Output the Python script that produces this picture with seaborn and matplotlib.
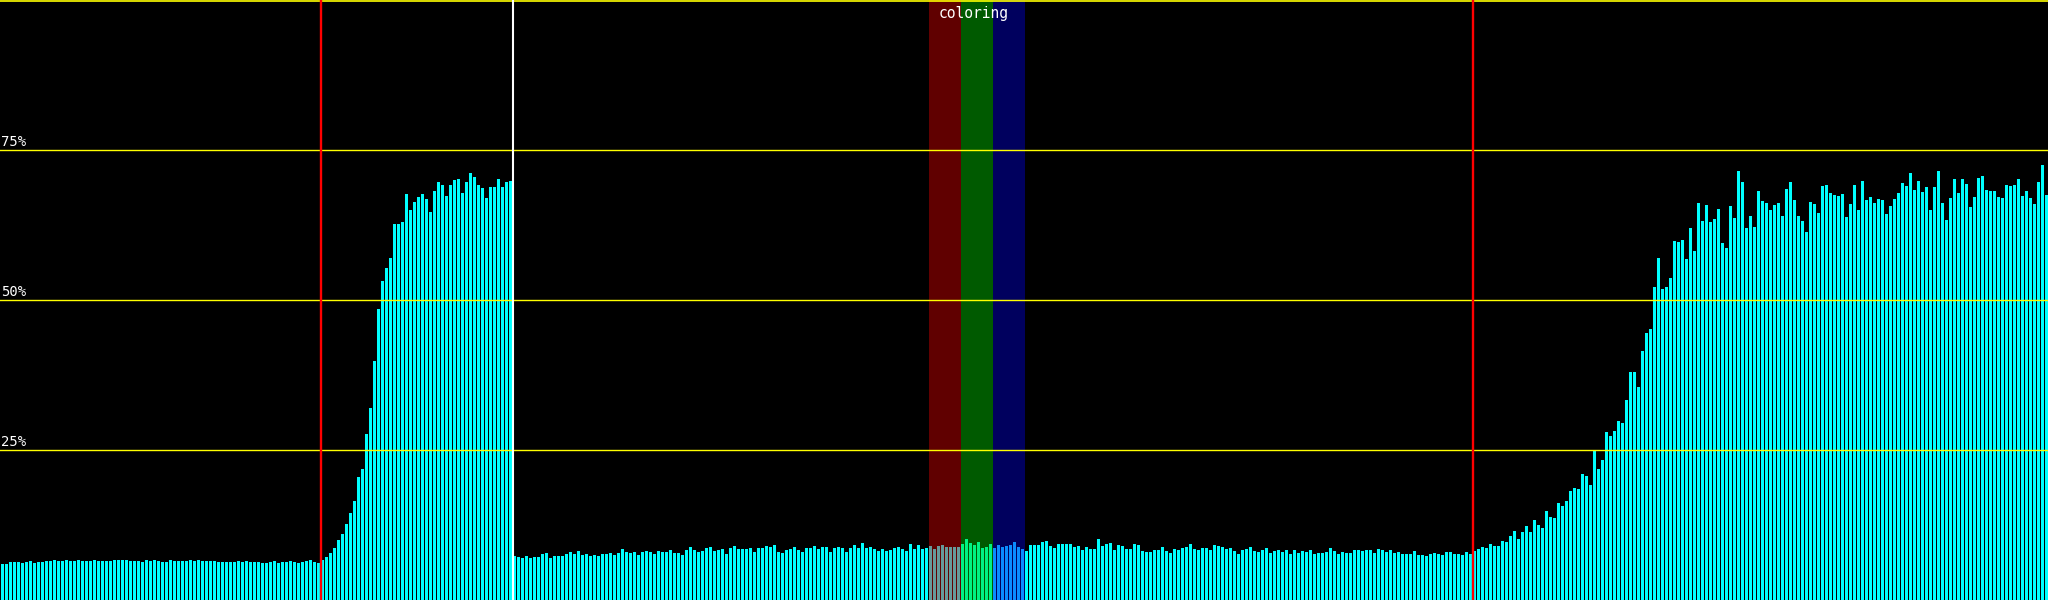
import numpy as np
import pandas as pd
import matplotlib
matplotlib.use("Agg")
import matplotlib.pyplot as plt
import matplotlib.transforms as mtransforms
import seaborn as sns

# ---- data (percent values, one per sample bar) ----
seg_a = [6.0, 6.0, 6.33, 6.33, 6.33, 6.17, 6.33, 6.5, 6.17, 6.33,
         6.33, 6.5, 6.5, 6.67, 6.5, 6.5, 6.67, 6.5, 6.5, 6.67,
         6.5, 6.5, 6.5, 6.67, 6.5, 6.5, 6.5, 6.5, 6.67, 6.67,
         6.67, 6.67, 6.5, 6.5, 6.5, 6.33, 6.67, 6.5, 6.67, 6.5,
         6.33, 6.33, 6.67, 6.5, 6.5, 6.5, 6.5, 6.67, 6.5, 6.67,
         6.5, 6.5, 6.5, 6.5, 6.33, 6.33, 6.33, 6.33, 6.33, 6.5,
         6.33, 6.5, 6.33, 6.33, 6.33, 6.17, 6.17, 6.33, 6.5, 6.17,
         6.33, 6.33, 6.5, 6.33, 6.17, 6.33, 6.5, 6.67, 6.33, 6.17]
seg_b = [6.67, 7.17, 7.83, 8.67, 10.0, 11.0, 12.67, 14.5, 16.5, 20.5,
         21.83, 27.67, 32.0, 39.83, 48.5, 53.17, 55.33, 57.0, 62.67, 62.67,
         63.0, 67.67, 65.0, 66.33, 67.17, 67.67, 66.83, 64.67, 68.17, 69.67,
         69.17, 67.33, 69.17, 70.0, 70.17, 67.83, 69.67, 71.17, 70.5, 69.17,
         68.67, 67.0, 68.83, 68.83, 70.17, 68.83, 69.67, 69.83]
seg_c = [7.33, 7.17, 7.0, 7.33, 7.0, 7.17, 7.17, 7.67, 7.83, 7.0,
         7.33, 7.33, 7.33, 7.67, 8.0, 7.67]
seg_d = [8.17, 7.5, 7.67, 7.33, 7.5, 7.33, 7.67, 7.67, 7.83, 7.5,
         7.83, 8.5, 8.0, 7.83, 8.0, 7.5, 8.0, 8.17, 8.0, 7.67,
         8.17, 8.0, 8.0, 8.33, 7.83, 7.83, 7.5, 8.33, 8.83, 8.33,
         8.0, 8.17, 8.67, 8.83, 8.17, 8.33, 8.5, 7.67, 8.67, 9.0,
         8.5, 8.5, 8.5, 8.67, 8.0, 8.67, 8.67, 9.0, 8.83, 9.17,
         8.0, 7.83, 8.33, 8.5, 8.83, 8.33, 8.0, 8.67, 8.67, 9.0,
         8.5, 8.83, 8.83, 8.0, 8.67, 8.83, 8.67, 8.0, 8.67, 9.17,
         8.67, 9.5, 8.67, 8.83, 8.5, 8.17, 8.5, 8.17, 8.33, 8.67, 8.83]
seg_e = [8.5, 8.17, 9.33, 8.5, 9.17, 8.5, 8.67]
seg_red = [9.0, 8.5, 9.0, 9.17, 8.83, 8.83, 8.83, 8.83]
seg_green = [9.33, 10.17, 9.5, 9.17, 9.67, 8.67, 8.83, 9.33]
seg_blue = [8.67, 9.17, 8.83, 9.0, 9.17, 9.67, 8.83, 8.5]
seg_f = [8.17, 9.17, 9.17, 9.17, 9.67, 9.83, 9.0, 8.67, 9.33, 9.33,
         9.33, 9.33, 8.83, 9.0, 8.33, 8.83, 8.5, 8.5, 10.17]
seg_g = [9.0, 9.33, 9.5, 8.33, 9.17, 9.0, 8.5, 8.5, 9.33, 9.17,
         8.17, 8.0, 8.0, 8.33, 8.33, 8.83, 8.17, 7.83, 8.5, 8.33,
         8.67, 8.83, 9.33, 8.5, 8.33, 8.67, 8.67, 8.33, 9.17, 9.0,
         8.83, 8.5, 8.67, 8.17, 7.67, 8.33, 8.5, 8.83, 8.17, 8.0,
         8.33, 8.67, 7.83, 8.17, 8.33, 8.0, 8.33, 7.67, 8.33, 7.83,
         8.17, 8.0, 8.33, 7.67, 7.83, 7.83, 8.0, 8.67, 8.17, 7.67,
         8.0, 7.83, 7.83, 8.33, 8.33, 8.17, 8.33, 8.33, 7.83, 8.5,
         8.33, 8.0, 8.33, 7.83, 8.0]
seg_h = [7.67, 7.67, 7.67, 8.17, 7.5, 7.5, 7.33, 7.67, 7.83, 7.67,
         7.5, 8.0, 8.0, 7.67, 7.67, 7.5, 8.0, 7.67]
seg_i = [8.17, 8.5, 8.83, 8.67, 9.33, 9.0, 9.0, 9.83, 9.67, 10.67,
         11.5, 10.17, 11.33, 12.33, 11.33, 13.33, 12.5, 12.0, 14.83, 13.83,
         13.67, 16.17, 15.67, 16.5, 18.17, 18.67, 18.5, 21.0, 20.67, 19.17,
         24.83, 21.83, 23.33, 28.0, 27.33, 28.17, 29.83, 29.5, 33.33, 38.0,
         38.0, 35.5, 41.5, 44.5, 45.17, 52.17, 57.0, 51.83, 52.17, 53.67,
         59.83, 59.67, 60.0, 56.83, 62.0, 58.17, 66.17]
seg_j = [63.17, 65.83, 63.0, 63.5, 65.17, 59.5, 58.67, 65.67, 63.67, 71.5,
         69.67, 62.0, 64.0, 62.17, 68.17, 66.5, 66.17, 65.0, 65.83, 66.17,
         64.0, 68.5, 69.67, 66.67, 64.0, 63.17, 61.33, 66.33, 66.0, 64.5,
         69.0, 69.17, 67.83, 67.5, 67.33, 67.67, 63.83, 66.0, 69.17, 65.0,
         69.83, 66.67, 67.17, 66.17, 66.83, 66.67, 64.33, 65.67, 66.83, 67.83,
         69.5, 69.0, 71.17, 68.33, 69.83, 68.0, 68.83, 65.0, 68.83, 71.5,
         66.17, 63.33, 67.0, 70.17, 67.83, 70.17, 69.33, 65.5, 67.17, 70.33,
         70.67, 68.33, 68.17, 68.17, 67.17, 67.0, 69.17, 69.0, 69.17, 70.17,
         67.33, 68.17, 67.0, 66.0, 69.67, 72.5, 67.5]

grid_levels = [25, 50, 75]
grid_labels = ["25%", "50%", "75%"]
red_markers = [80, 368]
white_markers = [128]
band_label = "coloring"

# ---- assemble ----
segments = [("plain", seg_a), ("plain", seg_b), ("plain", seg_c), ("plain", seg_d),
            ("plain", seg_e), ("red", seg_red), ("green", seg_green),
            ("blue", seg_blue), ("plain", seg_f), ("plain", seg_g),
            ("plain", seg_h), ("plain", seg_i), ("plain", seg_j)]
values, groups = [], []
for g, seg in segments:
    values += seg
    groups += [g] * len(seg)
n = len(values)
df = pd.DataFrame({"idx": np.arange(n), "value": values, "group": groups})

bar_palette = {"plain": "#00ffff", "red": "#669a9a", "green": "#00f283", "blue": "#0a8cff"}
band_colors = {"red": "#600000", "green": "#005a00", "blue": "#00005e"}

fig = plt.figure(figsize=(20.48, 6.0), dpi=100, facecolor="black")
ax = fig.add_axes([0, 0, 1, 1])
ax.set_facecolor("black")

# colour bands behind bars
for g, col in band_colors.items():
    idxs = df.index[df["group"] == g]
    ax.axvspan(idxs.min() - 0.5, idxs.max() + 0.5, color=col, zorder=0, lw=0)

sns.barplot(data=df, x="idx", y="value", hue="group", palette=bar_palette,
            dodge=False, legend=False, width=0.75, saturation=1, linewidth=0,
            ax=ax, zorder=2)

ax.set_xlim(-0.625, n - 0.625)
ax.set_ylim(0, 100)

for lv in grid_levels:
    ax.axhline(lv, color="#ffff00", lw=1.0, zorder=3)
ax.axhline(99.85, color="#ffff00", lw=1.2, zorder=3)

for m in red_markers:
    ax.axvline(m - 0.5, color="#ff0000", lw=1.7, zorder=4)
for m in white_markers:
    ax.axvline(m - 0.5, color="#ffffff", lw=1.5, zorder=4)

trans = mtransforms.blended_transform_factory(ax.transAxes, ax.transData)
for lv, lab in zip(grid_levels, grid_labels):
    ax.text(0.0005, lv + 0.25, lab, transform=trans, ha="left", va="bottom",
            color="white", fontsize=10, family="DejaVu Sans Mono", zorder=5)

ax.text(242.75, 99.0, band_label, ha="center", va="top", color="white",
        fontsize=10.5, family="DejaVu Sans Mono", zorder=5)

ax.set_axis_off()
fig.savefig("out.png", dpi=100, facecolor="black")
